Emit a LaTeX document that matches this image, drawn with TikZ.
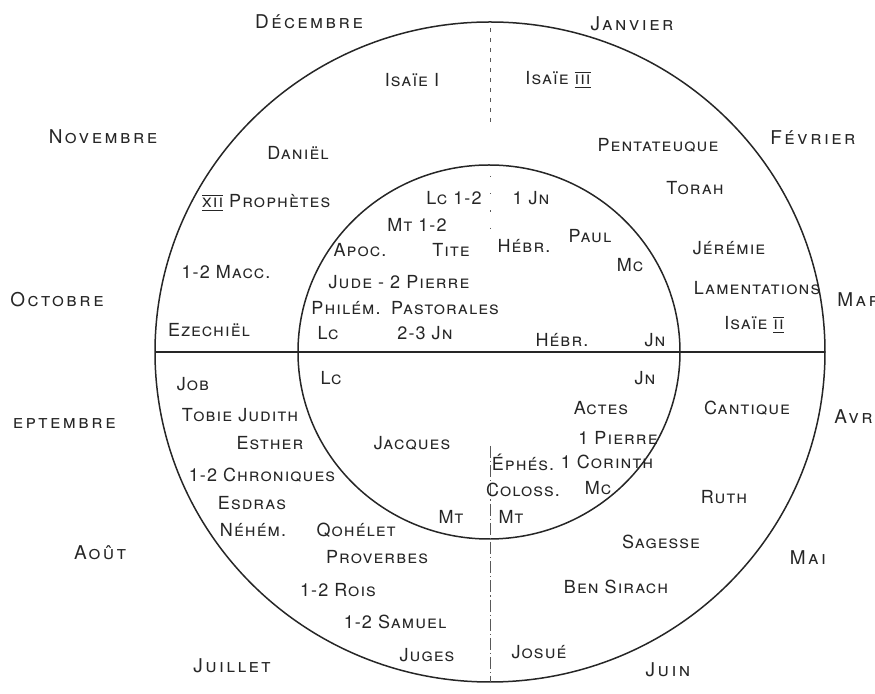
\documentclass[tikz,border=0pt]{standalone}
\usepackage{fontspec}
\setmainfont{TeX Gyre Heros}[LetterSpace=6]
\newcommand\rnum[1]{$\overline{\underline{\mbox{#1}}}$}
\begin{document}
\begin{tikzpicture}[x=0.5pt,y=-0.5pt,
  lab/.style={font=\scshape\fontsize{9}{10}\selectfont, inner sep=0pt, text=black!85},
  month/.style={font=\scshape\fontsize{9.5}{10}\selectfont\addfontfeature{LetterSpace=13}, inner sep=0pt, text=black!85},
  ring/.style={line width=0.75pt, draw=black!85},
  divider/.style={line width=1pt, draw=black!85},
  meridian/.style={line width=0.4pt, draw=black!65}]
\path[use as bounding box, clip] (0,0) rectangle (875,694);
% geometry
\coordinate (c) at (490,352);
\coordinate (ci) at (489,352);
\coordinate (hl) at (155,352);
\coordinate (hr) at (825,352);
\coordinate (v1) at (490,28);
\coordinate (v2) at (490,122);
\coordinate (v3) at (490,176);
\coordinate (v4) at (490,232);
\coordinate (v5) at (490,446);
\coordinate (v6) at (490,682);
\draw[ring] (c) ellipse [x radius=167.5pt, y radius=165pt];
\draw[ring] (ci) ellipse [x radius=95.5pt, y radius=93.5pt];
\draw[divider] (hl) -- (hr);
\draw[meridian, dash pattern=on 2pt off 3pt] (v1) -- (v2);
\draw[meridian, dash pattern=on 0.6pt off 8pt] (v3) -- (v4);
\draw[meridian, dash pattern=on 6pt off 1.5pt on 0.6pt off 1.5pt] (v5) -- (v6);
% months
\node[month] (dec) at (309,22) {Décembre};
\node[month] (jan) at (632,24) {Janvier};
\node[month] (feb) at (813,138) {Février};
\node[month] (nov) at (103,137) {Novembre};
\node[month] (oct) at (57,300) {Octobre};
\begin{scope}
\clip (13,380) rectangle (200,460);
\node[month, anchor=east] (sep) at (116,422) {Septembre};
\end{scope}
\node[month] (aug) at (100,553) {Août};
\node[month] (jul) at (232,666) {Juillet};
\node[month] (jun) at (668,670) {Juin};
\node[month] (may) at (808,558) {Mai};
\node[month, anchor=west] (apr) at (834,417) {Avril};
\node[month, anchor=west] (mar) at (837,300) {Mars};
% outer ring, upper half
\node[lab] (is1) at (412,80) {Isaïe I};
\node[lab] (is3) at (558,80) {Isaïe \rnum{iii}};
\node[lab] (dan) at (298,153) {Daniël};
\node[lab] (pent) at (658,145) {Pentateuque};
\node[lab] (tor) at (695,188) {Torah};
\node[lab] (xii) at (266,203) {\rnum{xii}\ Prophètes};
\node[lab] (mac) at (226,272) {1-2 Macc.};
\node[lab] (jer) at (729,248) {Jérémie};
\node[lab] (lam) at (757,288) {Lamentations};
\node[lab] (is2) at (754,325) {Isaïe \rnum{ii}};
\node[lab] (eze) at (209,330) {Ezechiël};
% outer ring, lower half
\node[lab] (job) at (193,384) {Job};
\node[lab] (tob) at (240,415) {Tobie Judith};
\node[lab] (est) at (270,443) {Esther};
\node[lab] (chr) at (262,475) {1-2 Chroniques};
\node[lab] (esd) at (252,503) {Esdras};
\node[lab] (neh) at (253,530) {Néhém.};
\node[lab] (qoh) at (356,530) {Qohélet};
\node[lab] (pro) at (377,557) {Proverbes};
\node[lab] (rois) at (338,590) {1-2 Rois};
\node[lab] (sam) at (395,622) {1-2 Samuel};
\node[lab] (jug) at (427,655) {Juges};
\node[lab] (can) at (747,408) {Cantique};
\node[lab] (ruth) at (724,497) {Ruth};
\node[lab] (sag) at (661,542) {Sagesse};
\node[lab] (ben) at (616,587) {Ben Sirach};
\node[lab] (jos) at (539,652) {Josué};
% inner circle, upper half
\node[lab] (lc12) at (454,198) {Lc 1-2};
\node[lab] (jn1) at (531,198) {1 Jn};
\node[lab] (mt12) at (417,225) {Mt 1-2};
\node[lab] (apoc) at (360,250) {Apoc.};
\node[lab] (tite) at (451,250) {Tite};
\node[lab] (hebu) at (524,246) {Hébr.};
\node[lab] (paul) at (590,236) {Paul};
\node[lab] (mcu) at (630,265) {Mc};
\node[lab] (jude) at (399,282) {Jude - 2 Pierre};
\node[lab] (phm) at (346,308) {Philém.};
\node[lab] (past) at (445,308) {Pastorales};
\node[lab] (lcu) at (328,333) {Lc};
\node[lab] (jn23) at (425,333) {2-3 Jn};
\node[lab] (hebd) at (562,340) {Hébr.};
\node[lab] (jnu) at (655,340) {Jn};
% inner circle, lower half
\node[lab] (lcd) at (331,378) {Lc};
\node[lab] (jac) at (412,443) {Jacques};
\node[lab] (mtl) at (451,517) {Mt};
\node[lab] (jnd) at (645,378) {Jn};
\node[lab] (act) at (601,408) {Actes};
\node[lab] (pi1) at (618,438) {1 Pierre};
\node[lab] (eph) at (523,462) {Éphés.};
\node[lab] (cor) at (607,462) {1 Corinth};
\node[lab] (col) at (523,490) {Coloss.};
\node[lab] (mcd) at (598,488) {Mc};
\node[lab] (mtr) at (511,517) {Mt};
\end{tikzpicture}
\end{document}
